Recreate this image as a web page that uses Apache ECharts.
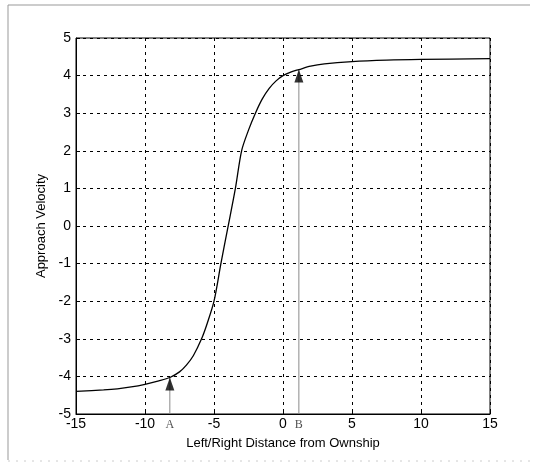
<!DOCTYPE html>
<html>
<head>
<meta charset="utf-8">
<script src="https://cdn.jsdelivr.net/npm/echarts@6/dist/echarts.min.js"></script>
<style>
  html, body { margin: 0; padding: 0; background: #fff; }
  #chart { width: 535px; height: 467px; }
</style>
</head>
<body>
<div id="chart"></div>
<script>
// curve
const distance = [-15, -13, -12, -11, -10, -9, -8.2, -7.5, -7, -6.5, -5.9, -5.5, -5, -4.5, -4, -3.45, -3, -2.5, -2, -1.5, -1, -0.5, 0, 0.6, 1.15, 2, 3, 5, 7.5, 10, 15]
const velocity = [-4.4, -4.36, -4.33, -4.28, -4.21, -4.12, -4.03, -3.88, -3.7, -3.45, -3.0, -2.6, -2.0, -1.0, -0.05, 1.0, 2.0, 2.55, 3.0, 3.38, 3.66, 3.86, 4.0, 4.1, 4.16, 4.25, 4.31, 4.37, 4.41, 4.43, 4.45]

// marked points A and B
const markNames = ['A', 'B']
const markX = [-8.2, 1.15]
const markY = [-4.03, 4.16]

const xTicks = [-15, -10, -5, 0, 5, 10, 15]
const yTicks = [-5, -4, -3, -2, -1, 0, 1, 2, 3, 4, 5]

const font = 'Liberation Sans, Arial, sans-serif'
const chart = echarts.init(document.getElementById('chart'))

const shafts = markX.map((x, i) => ({
  type: 'line',
  data: [[x, yTicks[0]], [x, markY[i]]],
  showSymbol: false,
  silent: true,
  lineStyle: { color: '#8a8a8a', width: 1 },
  z: 3
}))

const option = {
  animation: false,
  graphic: [
    { type: 'polyline', shape: { points: [[8, 460], [8, 5], [530, 5]] }, style: { stroke: '#999', lineWidth: 1, fill: null } },
    { type: 'line', shape: { x1: 8, y1: 461, x2: 530, y2: 461 }, style: { stroke: '#ccc', lineWidth: 1, lineDash: [2, 6] } }
  ],
  grid: {
    left: 76, right: 45, top: 38, bottom: 53,
    show: true, borderColor: '#000', borderWidth: 1, backgroundColor: '#fff'
  },
  xAxis: {
    type: 'value',
    min: xTicks[0], max: xTicks[xTicks.length - 1], interval: 5,
    name: 'Left/Right Distance from Ownship',
    nameLocation: 'middle', nameGap: 23,
    nameTextStyle: { color: '#000', fontFamily: font, fontSize: 13 },
    axisLine: { show: true, onZero: false, lineStyle: { color: '#000', width: 1 } },
    axisTick: { show: true, inside: true, length: 4, lineStyle: { color: '#000' } },
    axisLabel: { color: '#000', fontFamily: font, fontSize: 14, margin: 3, showMinLabel: true, showMaxLabel: true },
    splitLine: { show: true, lineStyle: { color: '#000', type: [3, 4], width: 1 } }
  },
  yAxis: {
    type: 'value',
    min: yTicks[0], max: yTicks[yTicks.length - 1], interval: 1,
    name: 'Approach Velocity',
    nameLocation: 'middle', nameGap: 15,
    nameTextStyle: { color: '#000', fontFamily: font, fontSize: 13 },
    axisLine: { show: true, onZero: false, lineStyle: { color: '#000', width: 1 } },
    axisTick: { show: true, inside: true, length: 4, lineStyle: { color: '#000' } },
    axisLabel: { color: '#000', fontFamily: font, fontSize: 14, margin: 5 },
    splitLine: { show: true, lineStyle: { color: '#000', type: [3, 4], width: 1 } }
  },
  series: [
    {
      type: 'line',
      data: distance.map((x, i) => [x, velocity[i]]),
      smooth: 0.3,
      showSymbol: false,
      lineStyle: { color: '#000', width: 1.3 },
      z: 4
    },
    ...shafts,
    {
      // arrow heads, tip on the curve
      type: 'scatter',
      data: markX.map((x, i) => [x, markY[i]]),
      symbol: 'triangle',
      symbolSize: [9, 13],
      symbolOffset: [0, '50%'],
      itemStyle: { color: '#000' },
      silent: true,
      z: 5
    },
    {
      // letters under the axis
      type: 'scatter',
      data: markX.map((x, i) => ({ value: [x, yTicks[0]], name: markNames[i] })),
      symbolSize: 0,
      silent: true,
      label: {
        show: true,
        position: 'bottom',
        distance: 5,
        formatter: p => p.name,
        color: '#222',
        fontFamily: 'Liberation Serif, DejaVu Serif, serif',
        fontSize: 12
      }
    }
  ]
}
chart.setOption(option)
</script>
</body>
</html>
